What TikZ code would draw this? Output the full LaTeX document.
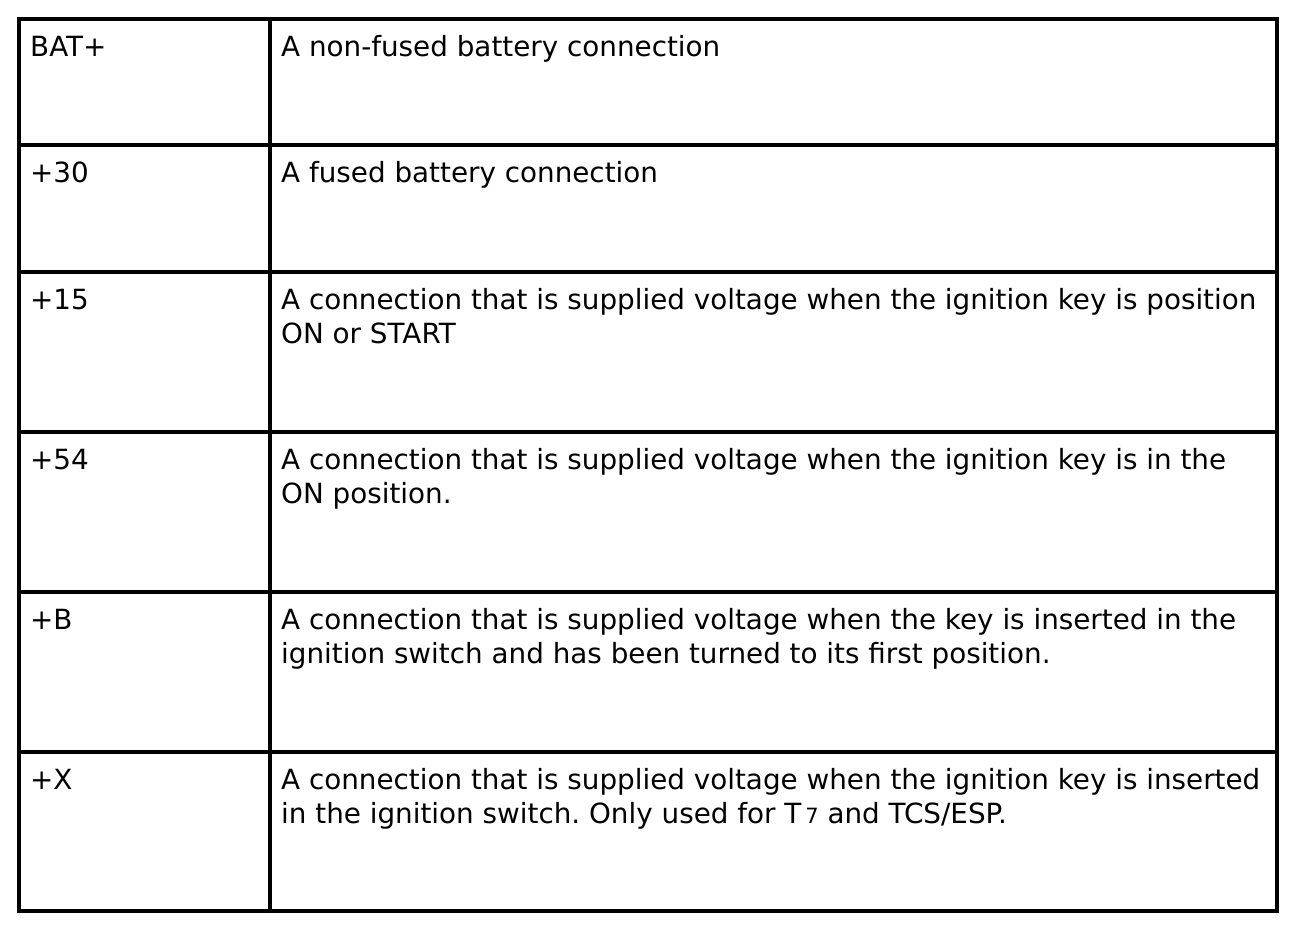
\documentclass[tikz,border=0pt]{standalone}
\usepackage{fontspec}
\setmainfont{DejaVu Sans}
\frenchspacing
\begin{document}
\begin{tikzpicture}[x=1pt,y=-1pt,
  grid/.style={line width=3.5pt},
  cell/.style={anchor=base west,inner sep=0pt,align=left,
    font=\fontsize{27.8}{34}\selectfont\frenchspacing}]
\useasboundingbox (0,0) rectangle (1312,930);
\fill[white] (0,0) rectangle (1312,930);
% outer frame and grid
\draw[grid] (19,19) rectangle (1277,911);
\draw[grid] (270,19) -- (270,911);
\foreach \yy in {145,272,432,592,752} \draw[grid] (19,\yy) -- (1277,\yy);
% first column
\node[cell] (k1) at (30,56) {BAT+};
\node[cell] (k2) at (30,182) {+30};
\node[cell] (k3) at (30,309) {+15};
\node[cell] (k4) at (30,469) {+54};
\node[cell] (k5) at (30,629) {+B};
\node[cell] (k6) at (30,789) {+X};
% second column (base anchor = baseline of last line)
\node[cell] (d1) at (281,56) {A non-fused battery connection};
\node[cell] (d2) at (281,182) {A fused battery connection};
\node[cell] (d3) at (281,343) {A connection that is supplied voltage when the ignition key is position\\ON or START};
\node[cell] (d4) at (281,503) {A connection that is supplied voltage when the ignition key is in the\\ON position.};
\node[cell] (d5) at (281,663) {A connection that is supplied voltage when the key is inserted in the\\ignition switch and has been turned to its first position.};
\node[cell] (d6) at (281,823) {A connection that is supplied voltage when the ignition key is inserted\\in the ignition switch. Only used for T{\kern4pt\fontsize{21}{21}\selectfont 7} and TCS/ESP.};
\end{tikzpicture}
\end{document}
